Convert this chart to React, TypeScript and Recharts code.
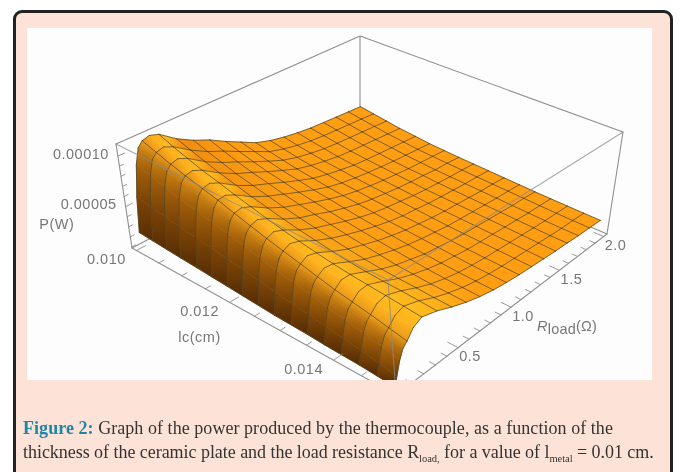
import React from 'react';
import { ScatterChart, Scatter, XAxis, YAxis } from 'recharts';

// thickness of the ceramic plate (cm)
const lcValues = [0.01, 0.0103, 0.0106, 0.0109, 0.01125, 0.01156, 0.01188, 0.01219, 0.0125, 0.01281, 0.01313, 0.01344, 0.01375, 0.01406, 0.01438, 0.01469, 0.015];
// load resistance (ohm)
const rValues = [0.01, 0.03, 0.06, 0.09, 0.125, 0.18, 0.25, 0.375, 0.5, 0.625, 0.75, 0.875, 1, 1.125, 1.25, 1.375, 1.5, 1.625, 1.75, 1.875, 2];
const meshColumns = [0, 4, 6, 7, 8, 9, 10, 11, 12, 13, 14, 15, 16, 17, 18, 19, 20];
// power in microwatts, one list per R value, running along lcValues
const powerByR = [
  [24, 23, 22, 21, 20, 19, 18, 17, 16, 15, 14.5, 14, 13, 12.5, 12, 11, 10],
  [58, 55.5, 53, 50, 48, 45.5, 43, 41, 38, 35.5, 33, 31, 28.5, 26.5, 24, 21, 18],
  [88, 84, 79.5, 75.5, 72, 68, 65, 61, 57, 53.5, 50, 47, 43.5, 40.5, 37, 33.5, 30],
  [103, 98, 93, 88.5, 84, 80, 75.5, 71, 66.5, 62.5, 59, 55, 51, 48, 45, 41.5, 38],
  [108, 103, 98, 93.5, 89, 85, 80, 75.5, 71, 67, 63, 59, 55, 52, 49, 45.5, 42],
  [110, 105, 100, 95, 90.5, 86, 81.5, 77.5, 73.5, 70, 66.5, 63, 60, 57.5, 55, 52.5, 50],
  [107, 101, 96, 91, 86.5, 82, 78, 74, 70.5, 67.5, 64.5, 62, 60, 58.5, 57, 55.5, 54],
  [95, 90, 85, 80.5, 76, 72, 68.5, 65, 62, 59.5, 57, 55, 53.5, 52.5, 52, 51, 50],
  [86, 81, 76.5, 72, 68, 64.5, 61, 58, 55.5, 53, 50.5, 48.5, 47, 46, 45.5, 44.5, 44],
  [79, 74, 69.5, 65.5, 62, 58.5, 55.5, 53, 50.5, 48, 46, 44, 42, 41, 40, 39.5, 39],
  [70, 66, 62, 58.5, 55.5, 52.5, 50, 47.5, 45.5, 43.5, 41.5, 40, 38.5, 37, 36, 35.5, 35],
  [62, 58.5, 55, 52, 49.5, 47, 45, 43, 41, 39.5, 38, 36.5, 35, 34, 33, 32.5, 32],
  [54, 51, 48.5, 46, 44, 42, 40.5, 39, 37.5, 36, 35, 34, 33, 32, 31, 30.5, 30],
  [49, 46.5, 44, 42, 40.5, 38.5, 37.5, 36, 35, 33.5, 33, 32, 31, 30, 29.5, 29, 28.5],
  [45.5, 43, 41, 39, 37.5, 36, 35, 34, 33, 32, 31, 30, 29.5, 29, 28.5, 28, 27.5],
  [43, 40.5, 38.5, 36.5, 35, 34, 33, 32, 31, 30, 29.5, 29, 28.5, 28, 27.5, 27, 26.5],
  [41, 39, 37, 35, 33.5, 32.5, 31.5, 30.5, 29.5, 29, 28.5, 28, 27.5, 27, 26.5, 26, 25.5],
  [40, 38, 36, 34, 32.5, 31, 30, 29.5, 28.5, 28, 27.5, 27, 26.5, 26, 25.5, 25, 25],
  [39, 37, 35, 33, 31.5, 30, 29, 28, 27.5, 27, 26.5, 26, 25.5, 25, 24.5, 24, 24],
  [38, 36, 34, 32, 30.5, 29, 28.2, 27.5, 27, 26.5, 26, 25.5, 25, 24.5, 24, 23.8, 23.6],
  [37, 35, 33, 31, 29.5, 28, 27.2, 26.5, 26, 25.5, 25, 24.5, 24, 23.7, 23.4, 23.2, 23],
];

const lcTicks = [0.010, 0.012, 0.014];
const lcMinorTicks = [0.0105, 0.011, 0.0115, 0.0125, 0.013, 0.0135, 0.0145, 0.015];
const rTicks = [0.5, 1.0, 1.5, 2.0];
const rMinorTicks = [0.1, 0.2, 0.3, 0.4, 0.6, 0.7, 0.8, 0.9, 1.1, 1.2, 1.3, 1.4, 1.6, 1.7, 1.8, 1.9];
const pTicks = [50, 100];
const pMinorTicks = [10, 20, 30, 40, 60, 70, 80, 90];

// box limits and the camera: where the box corners land on the page
const LC = [0.0099, 0.0151];
const RL = [-0.03, 2.04];
const PW = [9, 112];
const floorCorners = [[132, 248], [396, 395], [607, 234], [360, 128]];
const topCorners = [[116, 144], [388, 280], [623, 132], [360, 36]];

const homography = (q: number[][]) => {
  const [[x0, y0], [x1, y1], [x2, y2], [x3, y3]] = q;
  const dx1 = x1 - x2, dx2 = x3 - x2, sx = x0 - x1 + x2 - x3;
  const dy1 = y1 - y2, dy2 = y3 - y2, sy = y0 - y1 + y2 - y3;
  const den = dx1 * dy2 - dx2 * dy1;
  const g = (sx * dy2 - dx2 * sy) / den;
  const h = (dx1 * sy - sx * dy1) / den;
  return (s: number, t: number) => {
    const w = g * s + h * t + 1;
    return [((x1 - x0 + g * x1) * s + (x3 - x0 + h * x3) * t + x0) / w, ((y1 - y0 + g * y1) * s + (y3 - y0 + h * y3) * t + y0) / w];
  };
};
const floorMap = homography(floorCorners);
const topMap = homography(topCorners);

const project = (lc: number, r: number, p: number) => {
  const s = (lc - LC[0]) / (LC[1] - LC[0]);
  const t = (r - RL[0]) / (RL[1] - RL[0]);
  const w = (p - PW[0]) / (PW[1] - PW[0]);
  const a = floorMap(s, t);
  const b = topMap(s, t);
  return { x: a[0] + (b[0] - a[0]) * w, y: a[1] + (b[1] - a[1]) * w };
};

const hex = (c: string) => [1, 3, 5].map((i) => parseInt(c.slice(i, i + 2), 16));
const mix = (a: string, b: string, f: number) => {
  const A = hex(a), B = hex(b);
  return `rgb(${A.map((v, i) => Math.round(v + (B[i] - v) * f)).join(',')})`;
};
const backShade = ['#5a2f04', '#7a4306', '#a05e0a', '#c27a10', '#e8981a', '#ffb01c', '#ffb81e', '#f08c0e', '#f59210', '#fa9810', '#ff9e12'];
const frontShade = ['#5a2f04', '#7a4306', '#a05e0a', '#c27a10', '#eb9c1a', '#ffb41d', '#ffbb1f', '#ffb81e', '#ffae1a', '#ffa617', '#ff9e12'];
const nodeColor = (i: number, j: number) => {
  const k = Math.min(j, backShade.length - 1);
  return mix(backShade[k], frontShade[k], i / (lcValues.length - 1));
};

// surface quads, far corner first so nearer ones paint over
const quadPoints: { x: number; y: number }[] = [];
const quadShades: string[][] = [];
lcValues.slice(0, -1).forEach((lc, i) => {
  for (let j = rValues.length - 2; j >= 0; j--) {
    quadPoints.push(
      project(lc, rValues[j], powerByR[j][i]),
      project(lc, rValues[j + 1], powerByR[j + 1][i]),
      project(lcValues[i + 1], rValues[j + 1], powerByR[j + 1][i + 1]),
      project(lcValues[i + 1], rValues[j], powerByR[j][i + 1]),
    );
    quadShades.push([nodeColor(i, j), nodeColor(i, j + 1)]);
  }
});

const meshPoints: { x: number; y: number }[] = [];
lcValues.forEach((lc, i) => {
  rValues.slice(0, -1).forEach((r, j) => {
    meshPoints.push(project(lc, r, powerByR[j][i]), project(lc, rValues[j + 1], powerByR[j + 1][i]));
  });
});
meshColumns.forEach((j) => {
  lcValues.slice(0, -1).forEach((lc, i) => {
    meshPoints.push(project(lc, rValues[j], powerByR[j][i]), project(lcValues[i + 1], rValues[j], powerByR[j][i + 1]));
  });
});

const edge = (a: number[], b: number[]) => [project(a[0], a[1], a[2]), project(b[0], b[1], b[2])];
const backBox = [
  ...edge([LC[0], RL[0], PW[1]], [LC[0], RL[1], PW[1]]),
  ...edge([LC[0], RL[1], PW[1]], [LC[1], RL[1], PW[1]]),
  ...edge([LC[0], RL[1], PW[0]], [LC[0], RL[1], PW[1]]),
  ...edge([LC[1], RL[1], PW[0]], [LC[1], RL[1], PW[1]]),
  ...edge([LC[0], RL[0], PW[0]], [LC[0], RL[1], PW[0]]),
  ...edge([LC[1], RL[1], PW[0]], [LC[0], RL[1], PW[0]]),
];
const frontBox = [
  ...edge([LC[0], RL[0], PW[1]], [LC[1], RL[0], PW[1]]),
  ...edge([LC[1], RL[0], PW[1]], [LC[1], RL[1], PW[1]]),
  ...edge([LC[1], RL[0], PW[0]], [LC[1], RL[0], PW[1]]),
];
const axisLines = [
  ...edge([LC[0], RL[0], PW[0]], [LC[1], RL[0], PW[0]]),
  ...edge([LC[1], RL[0], PW[0]], [LC[1], RL[1], PW[0]]),
  ...edge([LC[0], RL[0], PW[0]], [LC[0], RL[0], PW[1]]),
];
const tickMarks = [
  ...lcTicks.flatMap((v) => edge([v, RL[0], PW[0]], [v, RL[0] + 0.07, PW[0]])),
  ...lcMinorTicks.flatMap((v) => edge([v, RL[0], PW[0]], [v, RL[0] + 0.04, PW[0]])),
  ...rTicks.flatMap((v) => edge([LC[1], v, PW[0]], [LC[1] - 0.00018, v, PW[0]])),
  ...rMinorTicks.flatMap((v) => edge([LC[1], v, PW[0]], [LC[1] - 0.0001, v, PW[0]])),
  ...pTicks.flatMap((v) => edge([LC[0], RL[0], v], [LC[0], RL[0] + 0.05, v])),
  ...pMinorTicks.flatMap((v) => edge([LC[0], RL[0], v], [LC[0], RL[0] + 0.03, v])),
];

const at = (p: { x: number; y: number }, dx: number, dy: number) => ({ x: p.x + dx, y: p.y + dy });
const tickLabels = [
  ...lcTicks.map((v) => ({ ...at(project(v, RL[0], PW[0]), -30, 10), text: v.toFixed(3), anchor: 'middle' })),
  ...rTicks.map((v) => ({ ...at(project(LC[1], v, PW[0]), 12, 10), text: v.toFixed(1), anchor: 'middle' })),
  ...pTicks.map((v) => ({ ...at(project(LC[0], RL[0], v), -9, -1), text: (v / 1e6).toFixed(5), anchor: 'end' })),
  { ...at(project(LC[0], RL[0], 42), -70, 10), text: 'P(W)', anchor: 'middle' },
  { ...at(project(0.0125, RL[0], PW[0]), -55, 22), text: 'lc(cm)', anchor: 'middle' },
];
const rLabel = [at(project(LC[1], 1.0, PW[0]), 26, 20)];

const noMark = () => <g />;

const drawSurface = (line: any) => {
  const pts = line.points;
  return (
    <g>
      <defs>
        {quadShades.map((s, n) => {
          const k = n * 4;
          return (
            <linearGradient key={n} id={`q${n}`} gradientUnits="userSpaceOnUse"
              x1={(pts[k].x + pts[k + 3].x) / 2} y1={(pts[k].y + pts[k + 3].y) / 2}
              x2={(pts[k + 1].x + pts[k + 2].x) / 2} y2={(pts[k + 1].y + pts[k + 2].y) / 2}>
              <stop offset="0" stopColor={s[0]} />
              <stop offset="1" stopColor={s[1]} />
            </linearGradient>
          );
        })}
      </defs>
      {quadShades.map((_, n) => {
        const k = n * 4;
        const d = pts.slice(k, k + 4).map((p: any) => `${p.x},${p.y}`).join(' ');
        return <polygon key={n} points={d} fill={`url(#q${n})`} stroke={`url(#q${n})`} strokeWidth={0.6} />;
      })}
    </g>
  );
};

const drawSegments = (stroke: string, width: number, opacity = 1) => (line: any) => {
  const pts = line.points;
  const parts = [];
  for (let k = 0; k + 1 < pts.length; k += 2) {
    parts.push(`M${pts[k].x},${pts[k].y}L${pts[k + 1].x},${pts[k + 1].y}`);
  }
  return <path d={parts.join('')} fill="none" stroke={stroke} strokeWidth={width} strokeOpacity={opacity} strokeLinecap="round" />;
};

const textStyle = { fontFamily: '"Liberation Sans", Arial, sans-serif', fontSize: 14.5, fill: '#777', letterSpacing: 0.5 };

const drawLabel = (props: any) => (
  <text x={props.cx} y={props.cy} textAnchor={props.payload.anchor} dominantBaseline="middle" {...textStyle}>
    {props.payload.text}
  </text>
);

const drawRLabel = (props: any) => (
  <text x={props.cx} y={props.cy} textAnchor="start" dominantBaseline="middle" {...textStyle} letterSpacing={0.2}>
    <tspan fontStyle="italic">R</tspan>
    <tspan dy={3}>load</tspan>
    <tspan dy={-3}>(Ω)</tspan>
  </text>
);

const captionLine = { position: 'absolute', left: 23, whiteSpace: 'nowrap', fontFamily: '"Liberation Serif", serif', fontSize: 18, color: '#333', filter: 'blur(0.3px)' } as React.CSSProperties;
const subStyle = { fontSize: 10.5, position: 'relative', top: 4 } as React.CSSProperties;

const series = (key: string, data: any[], line: any, shape: any = noMark) => (
  <Scatter key={key} data={data} line={line} lineType="joint" shape={shape} isAnimationActive={false} legendType="none" />
);

export default function App() {
  return (
    <div style={{ position: 'absolute', left: 0, top: 0, width: 680, height: 472, background: '#fff', overflow: 'hidden' }}>
      <div style={{ position: 'absolute', left: 13, top: 10, width: 654, height: 480, background: '#fde3d7', border: '3px solid #222', borderRadius: 9 }} />
      <div style={{ position: 'absolute', left: 27, top: 28, width: 625, height: 352, background: '#fdfdfd', filter: 'blur(0.6px)', overflow: 'hidden' }}>
        <ScatterChart width={625} height={352} margin={{ top: 0, right: 0, bottom: 0, left: 0 }}>
          <XAxis type="number" dataKey="x" domain={[27, 652]} hide allowDataOverflow />
          <YAxis type="number" dataKey="y" domain={[28, 380]} reversed hide allowDataOverflow />
          {series('back', backBox, drawSegments('#8f8f8f', 1.1))}
          {series('surface', quadPoints, drawSurface)}
          {series('mesh', meshPoints, drawSegments('#4d4020', 0.9, 0.8))}
          {series('front', frontBox, drawSegments('#8a8a8a', 1.1, 0.75))}
          {series('axes', axisLines, drawSegments('#8f8f8f', 1.1))}
          {series('ticks', tickMarks, drawSegments('#8f8f8f', 0.9))}
          <Scatter data={tickLabels} shape={drawLabel} isAnimationActive={false} legendType="none" />
          <Scatter data={rLabel} shape={drawRLabel} isAnimationActive={false} legendType="none" />
        </ScatterChart>
      </div>
      <div style={{ ...captionLine, top: 418, letterSpacing: 0.05 }}>
        <b style={{ color: '#1b87a5' }}>Figure 2:</b> Graph of the power produced by the thermocouple, as a function of the
      </div>
      <div style={{ ...captionLine, top: 442, letterSpacing: -0.04 }}>
        thickness of the ceramic plate and the load resistance R<span style={subStyle}>load,</span> for a value of l<span style={subStyle}>metal</span> = 0.01 cm.
      </div>
    </div>
  );
}
